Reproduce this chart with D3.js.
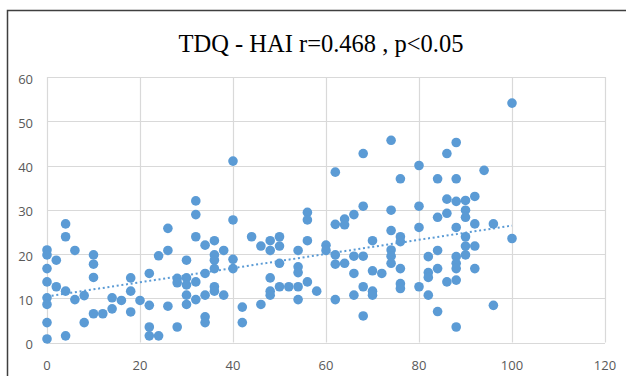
<!DOCTYPE html>
<html>
<head>
<meta charset="utf-8">
<script src="https://cdn.jsdelivr.net/npm/d3@7"></script>
<style>
  body { margin: 0; background: #fff; }
  svg { display: block; }
</style>
</head>
<body>
<svg id="chart"></svg>
<script>
// TDQ score (x) and HAI score (y), grouped by x
const tdq = [
  0, 0, 0, 0, 0, 0, 0, 0,
  2, 2,
  4, 4, 4, 4,
  6, 6,
  8, 8,
  10, 10, 10, 10,
  12,
  14, 14,
  16,
  18, 18, 18,
  20,
  22, 22, 22, 22,
  24, 24,
  26, 26, 26,
  28, 28, 28,
  30, 30, 30, 30, 30,
  32, 32, 32, 32, 32,
  34, 34, 34, 34, 34,
  36, 36, 36, 36, 36, 36,
  38, 38,
  40, 40, 40, 40,
  42, 42,
  44,
  46, 46,
  48, 48, 48, 48, 48,
  50, 50, 50, 50,
  52,
  54, 54, 54, 54, 54,
  56, 56, 56, 56,
  58,
  60, 60,
  62, 62, 62, 62, 62,
  64, 64, 64,
  66, 66, 66, 66,
  68, 68, 68, 68, 68,
  70, 70, 70, 70,
  72,
  74, 74, 74, 74, 74, 74,
  76, 76, 76, 76, 76, 76,
  80, 80, 80, 80,
  82, 82, 82, 82,
  84, 84, 84, 84, 84,
  86, 86, 86, 86,
  88, 88, 88, 88, 88, 88, 88, 88, 88,
  90, 90, 90, 90, 90, 90,
  92, 92, 92, 92,
  94,
  96, 96,
  100, 100
];
const hai = [
  20.9, 19.8, 16.7, 13.7, 10.1, 8.6, 4.5, 0.8,
  18.6, 12.6,
  26.8, 23.9, 11.6, 1.5,
  20.8, 9.7,
  10.6, 4.5,
  19.8, 17.7, 14.7, 6.5,
  6.5,
  7.6, 10.1,
  9.5,
  14.6, 11.6, 6.9,
  9.5,
  15.6, 8.4, 3.5, 1.5,
  1.5, 19.6,
  8.2, 20.8, 25.8,
  3.5, 14.5, 13.5,
  18.6, 14.6, 13, 10.7, 8.6,
  32, 28.9, 23.9, 13.7, 9.7,
  22, 15.6, 10.7, 5.8, 4.5,
  23, 19.8, 18.6, 16.7, 12.6, 11.6,
  20.8, 10.7,
  41, 27.7, 18.8, 16.7,
  8, 4.5,
  23.9,
  21.8, 8.6,
  23, 20.8, 14.6, 11.6, 10.7,
  23.9, 21.8, 17.9, 12.6,
  12.6,
  20.8, 17.1, 15.8, 12.6, 9.7,
  29.4, 27.7, 23, 13.7,
  11.6,
  22, 20.8,
  38.5, 26.7, 19.8, 17.7, 9.7,
  27.9, 26.6, 17.9,
  28.9, 19.5, 15.6, 10.7,
  42.7, 30.8, 19.5, 12.6, 6,
  23, 16.2, 11.6, 10.7,
  15.6,
  45.7, 29.9, 25.3, 20.9, 19.5, 17.9,
  37, 23.9, 22.8, 16.7, 13.3, 12.2,
  40, 30.8, 26, 12.6,
  19.4, 15.8, 14.7, 10.7,
  37, 28.3, 20.8, 16.7, 7,
  42.7, 32.4, 29.2, 13.7,
  45.2, 37, 31.9, 26, 19.4, 17.9, 16.7, 14.1, 3.5,
  32.1, 29.9, 28.3, 23.9, 21.8, 19.8,
  33, 26.8, 21.8, 16.7,
  38.9,
  26.8, 8.4,
  54.1, 23.5
];
const xTicks = [0, 20, 40, 60, 80, 100, 120];
const yTicks = [0, 10, 20, 30, 40, 50, 60];
const title = "TDQ - HAI r=0.468 , p<0.05";

const width = 626, height = 376;
const margin = { top: 77, right: 21, bottom: 33.5, left: 47 };
const blue = "#5b9bd5";

const svg = d3.select("#chart").attr("width", width).attr("height", height);

// outer chart frame (cropped at right and bottom)
svg.append("rect")
  .attr("x", 7.5).attr("y", 10.5)
  .attr("width", 700).attr("height", 500)
  .attr("fill", "none")
  .attr("stroke", "#3f3f3f")
  .attr("stroke-width", 1.5);

svg.append("text")
  .attr("x", 321).attr("y", 52)
  .attr("text-anchor", "middle")
  .attr("font-family", "'Liberation Serif', 'Times New Roman', serif")
  .attr("font-size", 24.5)
  .attr("fill", "#000")
  .text(title);

const x = d3.scaleLinear().domain([0, 120]).range([margin.left, width - margin.right]);
const y = d3.scaleLinear().domain([0, 60]).range([height - margin.bottom, margin.top]);

// gridlines
const grid = svg.append("g").attr("class", "grid");
grid.selectAll("line.h").data(yTicks).enter().append("line")
  .attr("class", "h")
  .attr("x1", x(0)).attr("x2", x(120))
  .attr("y1", d => Math.round(y(d)) + 0.5).attr("y2", d => Math.round(y(d)) + 0.5)
  .attr("stroke", "#d9d9d9").attr("stroke-width", 1.2);
grid.selectAll("line.v").data(xTicks).enter().append("line")
  .attr("class", "v")
  .attr("y1", y(0)).attr("y2", y(60))
  .attr("x1", d => Math.round(x(d)) + 0.5).attr("x2", d => Math.round(x(d)) + 0.5)
  .attr("stroke", "#d9d9d9").attr("stroke-width", 1.2);

// tick labels
const font = "'Open Sans', 'Noto Sans', sans-serif";
svg.append("g").selectAll("text").data(yTicks).enter().append("text")
  .attr("x", 33).attr("y", d => y(d) + 2)
  .attr("dy", "0.35em")
  .attr("text-anchor", "end")
  .attr("font-family", font).attr("font-size", 13)
  .attr("fill", "#595959")
  .text(d => d);
svg.append("g").selectAll("text").data(xTicks).enter().append("text")
  .attr("x", d => x(d)).attr("y", y(0) + 23)
  .attr("dy", "0.35em")
  .attr("text-anchor", "middle")
  .attr("font-family", font).attr("font-size", 13)
  .attr("fill", "#595959")
  .text(d => d);

// points
const points = tdq.map((v, i) => ({ x: v, y: hai[i] }));
svg.append("g").selectAll("circle").data(points).enter().append("circle")
  .attr("cx", d => x(d.x))
  .attr("cy", d => y(d.y))
  .attr("r", 4.8)
  .attr("fill", blue);

// linear trendline (least squares) across the data range
const mx = d3.mean(tdq), my = d3.mean(hai);
const slope = d3.sum(tdq, (v, i) => (v - mx) * (hai[i] - my)) / d3.sum(tdq, v => (v - mx) * (v - mx));
const intercept = my - slope * mx;
const ext = d3.extent(tdq);
svg.append("line")
  .attr("x1", x(ext[0])).attr("y1", y(intercept + slope * ext[0]))
  .attr("x2", x(ext[1])).attr("y2", y(intercept + slope * ext[1]))
  .attr("stroke", blue)
  .attr("stroke-width", 2)
  .attr("stroke-dasharray", "2,2.7");
</script>
</body>
</html>
